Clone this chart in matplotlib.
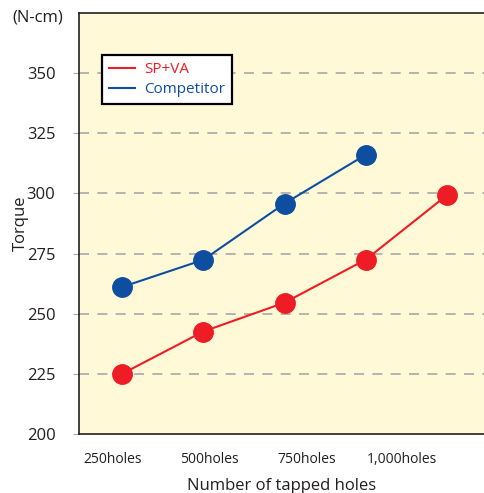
import matplotlib
matplotlib.use("Agg")
import matplotlib.pyplot as plt
from matplotlib.lines import Line2D

plt.rcParams["font.family"] = ["Open Sans", "DejaVu Sans"]

# data
stages = [1, 2, 3, 4, 5]
sp_va = [225.0, 242.6, 254.6, 272.5, 299.3]
competitor = [261.1, 272.4, 295.8, 316.1]
tick_pos = [0.89, 2.07, 3.27, 4.45]
tick_labels = ["250holes", "500holes", "750holes", "1,000holes"]
y_ticks = [200, 225, 250, 275, 300, 325, 350]

RED = "#EE1C25"
BLUE = "#0D4EA0"
BG = "#FFF9D8"
GRID = "#A8A8A8"
INK = "#231F20"

fig = plt.figure(figsize=(4.84, 4.93), dpi=100)
ax = fig.add_axes([79 / 484, 1 - 434 / 493, 1 - 79 / 484, 421 / 493])
ax.set_facecolor(BG)

for y in y_ticks[1:]:
    ax.axhline(y, color=GRID, lw=1.2, dashes=(6, 5), zorder=1)

ax.plot(stages, sp_va, color=RED, lw=1.5, marker="o", ms=14, zorder=3)
ax.plot(stages[:len(competitor)], competitor, color=BLUE, lw=1.5, marker="o", ms=14, zorder=3)

ax.set_xlim(0.47, 5.455)
ax.set_ylim(200, 375)
ax.set_yticks(y_ticks)
ax.set_xticks(tick_pos)
ax.set_xticklabels(tick_labels, fontsize=10, color=INK)
ax.tick_params(axis="x", length=0, pad=13)
ax.tick_params(axis="y", length=4, width=0.8, color=GRID, labelsize=12, labelcolor=INK, pad=13)

for side in ["left", "bottom", "top"]:
    ax.spines[side].set_color(INK)
    ax.spines[side].set_linewidth(1.2)
ax.spines["right"].set_visible(False)

ax.set_xlabel("Number of tapped holes", fontsize=12, color=INK, labelpad=8)
ax.set_ylabel("Torque", fontsize=12, color=INK)
ax.yaxis.set_label_coords(-50 / 405, 0.5)
fig.text(12 / 484, 1 - 17 / 493, "(N-cm)", fontsize=12, color=INK, ha="left", va="center")

handles = [Line2D([], [], color=RED, lw=1.5), Line2D([], [], color=BLUE, lw=1.5)]
leg = ax.legend(handles, ["SP+VA", "Competitor"], loc="upper left",
                bbox_to_anchor=(23 / 405, 1 - 42 / 421), fancybox=False, framealpha=1,
                edgecolor="black", fontsize=11, handlelength=1.7,
                handletextpad=0.6, borderpad=0.45, labelspacing=0.35, borderaxespad=0)
leg.get_frame().set_linewidth(1.6)
for text, c in zip(leg.get_texts(), [RED, BLUE]):
    text.set_color(c)

fig.savefig("out.png", dpi=100, facecolor="white")
